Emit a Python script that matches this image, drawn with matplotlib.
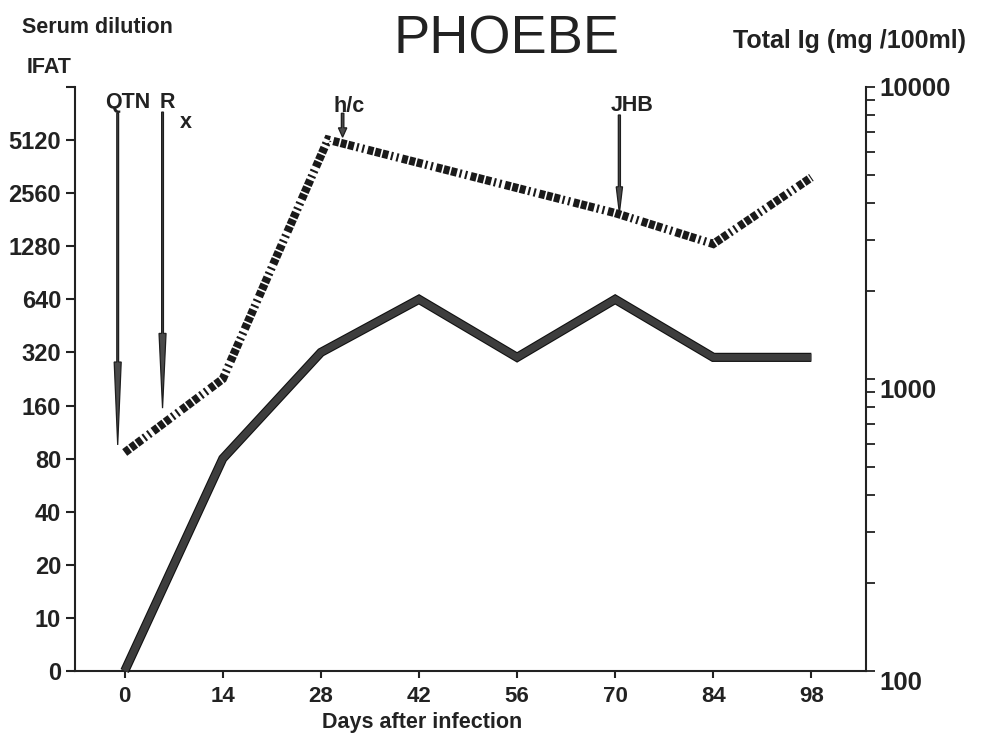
from __future__ import annotations

import matplotlib
matplotlib.use("Agg")
import matplotlib.pyplot as plt
import numpy as np
from matplotlib import patheffects
from matplotlib.ticker import NullFormatter
from matplotlib.transforms import blended_transform_factory

plt.rcParams["font.family"] = ["Liberation Sans", "DejaVu Sans"]
plt.rcParams["lines.scale_dashes"] = False

OUT_PNG = "out.png"

# IFAT titre (left axis, doubling dilutions)
DAYS = [0, 14, 28, 42, 56, 70, 84, 98]
IFAT_TITRE = [0, 80, 320, 640, 300, 640, 300, 300]

# total Ig in mg/100ml (right axis, log)
IG_DAYS = [0, 14, 29, 70, 84, 98]
TOTAL_IG = [560, 1000, 6600, 3700, 2900, 4900]

TITRE_LEVELS = [0, 10, 20, 40, 80, 160, 320, 640, 1280, 2560, 5120]
DAY_TICKS = [0, 14, 28, 42, 56, 70, 84, 98]
IG_TICKS = [100, 1000, 10000]

EVENT_LABELS = ["QTN", "Rx", "h/c", "JHB"]
EVENT_DAYS = [-1.0, 5.4, 31.1, 70.6]

INK = "#222222"


def titre_pos(titre):
    t = np.asarray(titre, dtype=float)
    return np.where(t > 0, np.log2(np.maximum(t, 5) / 5), 0.0)


def draw_events(ax) -> None:
    trans = blended_transform_factory(ax.transData, ax.transAxes)
    # top, tip (axes fraction), shaft width / head width (days), head length (axes fraction)
    shapes = {
        "QTN": (0.955, 0.387, 0.26, 1.0, 0.142),
        "Rx": (0.957, 0.450, 0.26, 1.0, 0.128),
        "h/c": (0.955, 0.914, 0.36, 1.2, 0.016),
        "JHB": (0.952, 0.784, 0.30, 0.9, 0.045),
    }
    for label, day in zip(EVENT_LABELS, EVENT_DAYS):
        top, tip, w, hw, hl = shapes[label]
        ax.arrow(day, top, 0, tip - top, transform=trans, width=w, head_width=hw,
                 head_length=hl, length_includes_head=True, fc="#4a4a4a", ec="#1e1e1e",
                 lw=0.9, clip_on=False, zorder=4)

    kw = dict(xycoords=("data", "axes fraction"), ha="center", va="center",
              fontsize=15.5, fontweight="bold", color=INK, annotation_clip=False)
    ax.annotate("QTN", xy=(0.5, 0.973), **kw)
    ax.annotate("R", xy=(6.1, 0.973), **kw)
    ax.annotate("x", xy=(8.7, 0.940), **kw)
    ax.annotate("h/c", xy=(32.0, 0.967), **kw)
    ax.annotate("JHB", xy=(72.4, 0.969), **kw)


def plot_chart() -> None:
    fig = plt.figure(figsize=(9.85, 7.37), dpi=100)
    ax = fig.add_axes([0.0761, 0.0896, 0.8031, 0.7924])
    ax2 = ax.twinx()

    # IFAT, solid
    ax.plot(
        DAYS, titre_pos(IFAT_TITRE), color="#3d3d3d", lw=5.0,
        solid_joinstyle="miter", solid_capstyle="butt", clip_on=False,
        path_effects=[patheffects.Stroke(linewidth=6.6, foreground="#111111"), patheffects.Normal()],
        zorder=3,
    )

    # total Ig, heavy dashed
    (ig_line,) = ax2.plot(IG_DAYS, TOTAL_IG, color="#1a1a1a", lw=6.0,
                          dash_capstyle="butt", dash_joinstyle="miter", zorder=3)
    ig_line.set_dashes([4.3, 1.2, 4.3, 1.2, 4.3, 2.0, 1.5, 2.6, 1.5, 2.6])

    ax.set_xlim(-7.1, 105.8)
    ax.set_ylim(0, 11)
    ax.set_xticks(DAY_TICKS)
    ax.set_xticklabels([str(d) for d in DAY_TICKS])
    ax.set_yticks(range(len(TITRE_LEVELS) + 1))
    ax.set_yticklabels([str(t) for t in TITRE_LEVELS] + [""])

    ax2.set_yscale("log")
    ax2.set_ylim(100, 10000)
    ax2.set_yticks(IG_TICKS)
    ax2.set_yticklabels([str(v) for v in IG_TICKS])
    ax2.yaxis.set_minor_formatter(NullFormatter())

    for a in (ax, ax2):
        a.spines["top"].set_visible(False)
        for s in a.spines.values():
            s.set_linewidth(1.5)
            s.set_color(INK)
    ax.spines["right"].set_visible(False)
    ax2.spines["left"].set_visible(False)
    ax2.spines["bottom"].set_visible(False)

    ax.tick_params(axis="y", length=6.5, width=1.5, pad=3.5, labelsize=17, colors=INK)
    ax.tick_params(axis="x", length=5, width=1.5, pad=6, labelsize=16, colors=INK)
    ax2.tick_params(axis="y", which="both", length=6.5, width=1.3, pad=3, labelsize=18.5, colors=INK)
    for lab in ax.get_xticklabels() + ax.get_yticklabels() + ax2.get_yticklabels():
        lab.set_fontweight("bold")
    # right labels sit a little below their ticks
    for lab in ax2.get_yticklabels()[:2]:
        lab.set_verticalalignment("top")

    ax.set_xlabel("Days after infection", fontsize=15.5, fontweight="bold", color=INK)
    ax.xaxis.set_label_coords(0.439, -0.07)

    draw_events(ax)

    fig.text(0.0223, 0.963, "Serum dilution", ha="left", va="center",
             fontsize=15.5, fontweight="bold", color=INK)
    fig.text(0.0274, 0.909, "IFAT", ha="left", va="center",
             fontsize=15.5, fontweight="bold", color=INK)
    fig.text(0.514, 0.947, "PHOEBE", ha="center", va="center", fontsize=39, color=INK)
    fig.text(0.744, 0.944, "Total Ig (mg /100ml)", ha="left", va="center",
             fontsize=18, fontweight="bold", color=INK)

    fig.savefig(OUT_PNG, dpi=100)
    plt.close(fig)


def main() -> None:
    plot_chart()


if __name__ == "__main__":
    main()
